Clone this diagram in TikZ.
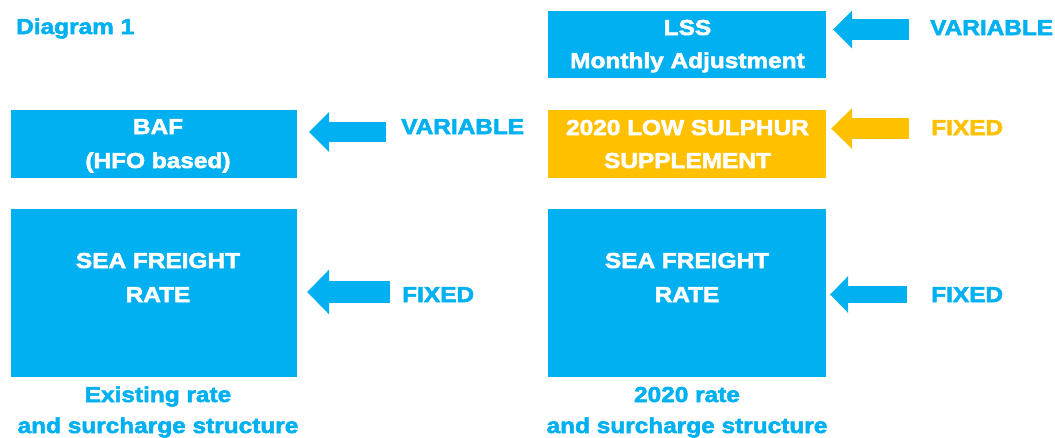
\documentclass[tikz,border=0pt]{standalone}
\usepackage{fontspec}
\setmainfont{Liberation Sans Bold}[FakeStretch=1.13,FakeBold=2.5]
\usetikzlibrary{arrows.meta,calc}
\definecolor{cblue}{HTML}{00B0F0}
\definecolor{corange}{HTML}{FFC000}
\begin{document}
\begin{tikzpicture}[x=1pt,y=-1pt,
  box/.style={fill=#1, draw=none, inner sep=0pt},
  intext/.style={text=white, font=\fontsize{21.6}{26}\selectfont, inner sep=0pt, anchor=base},
  outtext/.style={text=#1, font=\fontsize{21.6}{26}\selectfont, inner sep=0pt, anchor=base west},
  captext/.style={text=cblue, font=\fontsize{21.6}{26}\selectfont, inner sep=0pt, anchor=base},
  arr/.style n args={4}{draw=#1, line width=#2, -{Triangle[width=#3,length=#4,line width=0pt]}}
]
\useasboundingbox (0,0) rectangle (1055,437);

% title
\node[outtext=cblue] (title) at (16,34) {Diagram 1};

% boxes
\node[box=cblue, minimum width=278pt, minimum height=67pt] (lss) at (687,44.5) {};
\node[box=cblue, minimum width=286pt, minimum height=68pt] (baf) at (154,144) {};
\node[box=corange, minimum width=278pt, minimum height=68pt] (sul) at (687,144) {};
\node[box=cblue, minimum width=286pt, minimum height=168pt] (sfl) at (154,293) {};
\node[box=cblue, minimum width=278pt, minimum height=168pt] (sfr) at (687,293) {};

% box texts
\node[intext] (lssA) at (687.5,35) {LSS};
\node[intext] (lssB) at (687.5,68) {Monthly Adjustment};
\node[intext] (bafA) at (158,134) {BAF};
\node[intext] (bafB) at (158,168) {(HFO based)};
\node[intext] (sulA) at (687.5,135) {2020 LOW SULPHUR};
\node[intext] (sulB) at (687.5,168) {SUPPLEMENT};
\node[intext] (sflA) at (158,268) {SEA FREIGHT};
\node[intext] (sflB) at (158,302) {RATE};
\node[intext] (sfrA) at (687,268) {SEA FREIGHT};
\node[intext] (sfrB) at (687,302) {RATE};

% captions
\node[captext] (capLA) at (158,402) {Existing rate};
\node[captext] (capLB) at (158,433) {and surcharge structure};
\node[captext] (capRA) at (687,402) {2020 rate};
\node[captext] (capRB) at (687,433) {and surcharge structure};

% side labels
\node[outtext=cblue] (varL) at (930,35) {VARIABLE};
\node[outtext=cblue] (varB) at (401,134) {VARIABLE};
\node[outtext=corange] (fixS) at (931,135) {FIXED};
\node[outtext=cblue] (fixL) at (402,302) {FIXED};
\node[outtext=cblue] (fixR) at (931,302) {FIXED};

% arrow heights
\coordinate (yL) at (0,29.5);
\coordinate (yB) at (0,132);
\coordinate (yS) at (0,128.5);
\coordinate (yFL) at (0,292);
\coordinate (yFR) at (0,294.5);

% arrows
\draw[arr={cblue}{21pt}{38pt}{19pt}] ($(varL.west |- yL)+(-21,0)$) -- ($(lss.east |- yL)+(7,0)$);
\draw[arr={cblue}{20pt}{40pt}{20pt}] ($(varB.west |- yB)+(-15,0)$) -- ($(baf.east |- yB)+(12,0)$);
\draw[arr={corange}{21pt}{41pt}{21pt}] ($(fixS.west |- yS)+(-22,0)$) -- ($(sul.east |- yS)+(5,0)$);
\draw[arr={cblue}{22pt}{45pt}{22pt}] ($(fixL.west |- yFL)+(-12,0)$) -- ($(sfl.east |- yFL)+(10,0)$);
\draw[arr={cblue}{17pt}{37pt}{18pt}] ($(fixR.west |- yFR)+(-24,0)$) -- ($(sfr.east |- yFR)+(4,0)$);
\end{tikzpicture}
\end{document}
